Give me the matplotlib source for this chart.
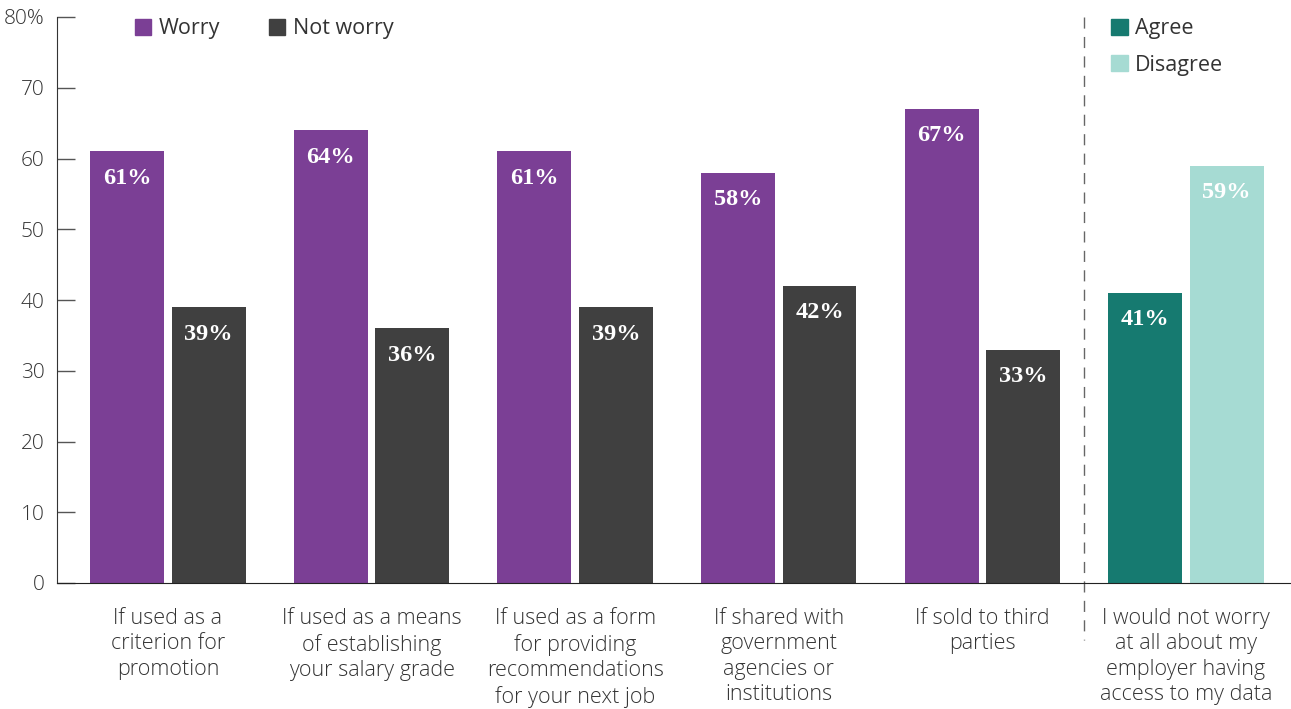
import numpy as np
import matplotlib.pyplot as plt
from matplotlib.patches import Patch

categories = ["If used as a\ncriterion for\npromotion",
              "If used as a means\nof establishing\nyour salary grade",
              "If used as a form\nfor providing\nrecommendations\nfor your next job",
              "If shared with\ngovernment\nagencies or\ninstitutions",
              "If sold to third\nparties",
              "I would not worry\nat all about my\nemployer having\naccess to my data"]
worry = [61, 64, 61, 58, 67]
not_worry = [39, 36, 39, 42, 33]
agree = [41]
disagree = [59]
yticks = [0, 10, 20, 30, 40, 50, 60, 70, 80]
ytick_labels = ["0", "10", "20", "30", "40", "50", "60", "70", "80%"]

PURPLE = "#7b3f95"
DARK = "#404040"
TEAL = "#167a70"
LTEAL = "#a6dbd3"
TXT = "#333333"

plt.rcParams['font.family'] = ['Open Sans', 'DejaVu Sans']

fig = plt.figure(figsize=(12.91, 7.09), dpi=100)
ax = fig.add_axes([57/1291, 1-583/709, 1-57/1291, (583-17)/709])

w = 0.363
off = 0.2
x = np.arange(len(categories))

def draw(xs, vals, color):
    bars = ax.bar(xs, vals, width=w, color=color)
    for b, v in zip(bars, vals):
        ax.annotate(f"{v}%", (b.get_x() + b.get_width()/2, v), xytext=(0, -27),
                    textcoords='offset pixels', ha='center', va='center',
                    color='white', fontsize=17.5, fontweight='bold',
                    family=['Liberation Serif', 'DejaVu Serif'])

draw(x[:5] - off, worry, PURPLE)
draw(x[:5] + off, not_worry, DARK)
draw(x[5:] - off, agree, TEAL)
draw(x[5:] + off, disagree, LTEAL)

ax.set_xlim(-0.545, 5.516)
ax.set_ylim(0, 80)
ax.set_yticks(yticks)
ax.set_yticklabels(ytick_labels, fontsize=15, color=TXT, fontweight='light')
ax.tick_params(axis='y', direction='in', length=13, width=1, color='#555555', pad=9)
ax.set_xticks(x)
ax.set_xticklabels(categories, fontsize=15.5, color=TXT, fontweight='light', linespacing=1.28)
ax.tick_params(axis='x', length=0, pad=18)
for s in ['top', 'right']:
    ax.spines[s].set_visible(False)
ax.spines['left'].set_color('#333333')
ax.spines['bottom'].set_color('#222222')

ax.plot([4.5, 4.5], [80, -8], ls=(0, (8, 6)), color='#666666', lw=1, clip_on=False)

h1 = [Patch(color=PURPLE, label='Worry'), Patch(color=DARK, label='Not worry')]
leg1 = ax.legend(handles=h1, ncol=2, loc='upper left', bbox_to_anchor=(0.056, 1.013),
                 frameon=False, fontsize=15.5, handlelength=0.75, handleheight=0.75,
                 handletextpad=0.35, columnspacing=2.3, borderaxespad=0)
for t in leg1.get_texts():
    t.set_color(TXT)
ax.add_artist(leg1)
h2 = [Patch(color=TEAL, label='Agree'), Patch(color=LTEAL, label='Disagree')]
leg2 = ax.legend(handles=h2, ncol=1, loc='upper left', bbox_to_anchor=(0.8475, 1.013),
                 frameon=False, fontsize=15.5, handlelength=0.75, handleheight=0.75,
                 handletextpad=0.35, labelspacing=0.72, borderaxespad=0)
for t in leg2.get_texts():
    t.set_color(TXT)

fig.savefig("out.png", dpi=100)
